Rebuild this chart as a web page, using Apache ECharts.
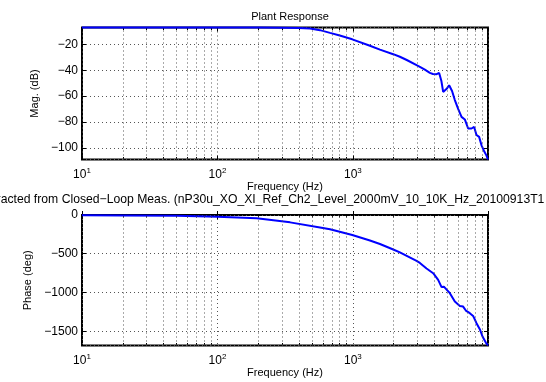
<!DOCTYPE html>
<html>
<head>
<meta charset="UTF-8">
<title>Plant Response</title>
<script src="https://cdn.jsdelivr.net/npm/echarts@6/dist/echarts.min.js"></script>
<style>
  body { margin: 0; background: #fff; }
  #main { width: 546px; height: 382px; }
</style>
</head>
<body>
<div id="main"></div>
<script>
// magnitude (dB)
var magFreq = [10, 20, 50, 100, 200, 300, 400, 483, 572, 678, 800, 990, 1337, 1585, 1986, 2224, 2500, 2954, 3125, 3400, 3703, 3900, 4150, 4337, 4500, 4642, 4778, 4950, 5140, 5400, 5662, 6000, 6344, 6500, 6710, 7097, 7516, 7859, 8184, 8555, 8912, 9265, 9699, 9950];
var magDb = [-6.85, -6.85, -6.86, -6.88, -6.92, -7.0, -7.2, -7.6, -8.9, -11.0, -13.0, -16.0, -21.0, -24.0, -27.5, -29.5, -32.0, -36.0, -37.3, -39.5, -42.0, -42.8, -43.0, -42.0, -48.0, -56.7, -57.0, -54.0, -51.5, -56.0, -63.0, -70.0, -76.0, -76.5, -78.0, -85.0, -85.0, -83.8, -90.0, -91.5, -98.0, -102.0, -106.0, -109.0];

// phase (deg)
var phFreq = [10, 20, 50, 100, 195, 344, 572, 678, 990, 1337, 1585, 1986, 2224, 2954, 3125, 3500, 3917, 4031, 4264, 4518, 4700, 4861, 5202, 5662, 6164, 6521, 6826, 7305, 7726, 8184, 8655, 9063, 9586, 9950];
var phDeg = [-2, -5, -11, -22, -43, -95, -160, -185, -258, -329, -374, -445, -483, -593, -619, -690, -751, -773, -838, -930, -925, -913, -1009, -1117, -1173, -1182, -1233, -1267, -1302, -1396, -1473, -1568, -1646, -1684];

// minor grid / tick positions between decades
var minorFreq = [20, 30, 40, 50, 60, 70, 80, 90, 200, 300, 400, 500, 600, 700, 800, 900, 2000, 3000, 4000, 5000, 6000, 7000, 8000, 9000];

var title1 = 'Plant Response';
var title2 = 'Extracted from Closed\u2212Loop Meas. (nP30u_XO_XI_Ref_Ch2_Level_2000mV_10_10K_Hz_20100913T1';

var FONT = '"Liberation Sans", Arial, Helvetica, sans-serif';
var fMin = 10, fMax = 9950;

function pairs(xs, ys) {
  return xs.map(function (x, i) { return [x, ys[i]]; });
}

function decadeLabel(v) {
  var e = Math.round(Math.log10(v));
  if (Math.abs(v - Math.pow(10, e)) > 1e-6 * v) return '';
  return '{b|10}{s|' + e + '}';
}

function yLabel(step) {
  return function (v) {
    if (Math.abs(v / step - Math.round(v / step)) > 1e-6) return '';
    return String(v).replace('-', '\u2212');
  };
}

var dotted = { type: [1, 3], color: '#555', width: 1 };
var txt = { fontFamily: FONT, fontSize: 11, color: '#000' };

function xAxes(g, nameGap) {
  return [
    {
      type: 'log', gridIndex: g, logBase: 10, min: fMin, max: fMax, position: 'bottom',
      axisLine: { show: false },
      axisTick: { inside: true, length: 4, lineStyle: { color: '#000' } },
      axisLabel: {
        formatter: decadeLabel, margin: 7, color: '#000',
        rich: {
          b: { fontFamily: FONT, fontSize: 12, color: '#000' },
          s: { fontFamily: FONT, fontSize: 8, color: '#000', padding: [0, 0, 9, 0] }
        }
      },
      splitLine: { show: true, lineStyle: dotted },
      name: 'Frequency (Hz)', nameLocation: 'middle', nameGap: nameGap,
      nameTextStyle: { fontFamily: FONT, fontSize: 11, color: '#000' }
    },
    {
      type: 'log', gridIndex: g, logBase: 10, min: fMin, max: fMax, position: 'top',
      axisLine: { show: false },
      axisTick: { inside: true, length: 4, lineStyle: { color: '#000' } },
      axisLabel: { show: false }, splitLine: { show: false }
    },
    {
      type: 'log', gridIndex: g, logBase: 10, min: fMin, max: fMax, position: 'bottom',
      axisLine: { show: false },
      axisTick: { inside: true, length: 2.5, customValues: minorFreq, lineStyle: { color: '#000' } },
      axisLabel: { show: false }, splitLine: { show: false }
    },
    {
      type: 'log', gridIndex: g, logBase: 10, min: fMin, max: fMax, position: 'top',
      axisLine: { show: false },
      axisTick: { inside: true, length: 2.5, customValues: minorFreq, lineStyle: { color: '#000' } },
      axisLabel: { show: false }, splitLine: { show: false }
    }
  ];
}

function yAxes(g, min, max, split, step, name, nameGap) {
  return [
    {
      type: 'value', gridIndex: g, min: min, max: max, splitNumber: split, position: 'left',
      axisLine: { show: false },
      axisTick: { inside: true, length: 4, lineStyle: { color: '#000' } },
      axisLabel: { formatter: yLabel(step), margin: 4, fontFamily: FONT, fontSize: 12, color: '#000' },
      splitLine: { show: true, lineStyle: dotted },
      name: name, nameLocation: 'middle', nameGap: nameGap, nameRotate: 90,
      nameTextStyle: txt
    },
    {
      type: 'value', gridIndex: g, min: min, max: max, splitNumber: split, position: 'right',
      axisLine: { show: false },
      axisTick: { inside: true, length: 4, lineStyle: { color: '#000' } },
      axisLabel: { show: false }, splitLine: { show: false }
    }
  ];
}

function minorGrid() {
  return {
    silent: true, symbol: 'none', animation: false,
    label: { show: false },
    lineStyle: dotted,
    data: minorFreq.map(function (f) { return { xAxis: f }; })
  };
}

var chart = echarts.init(document.getElementById('main'), null, { renderer: 'canvas' });
chart.setOption({
  animation: false,
  backgroundColor: '#fff',
  title: [
    { text: title1, left: 285, top: 6, textAlign: 'center',
      textStyle: { fontFamily: FONT, fontSize: 11, fontWeight: 'normal', color: '#000' } }
  ],
  graphic: [
    { type: 'text', x: -21, y: 194,
      style: { text: title2, font: '12.2px ' + FONT, fill: '#000' } }
  ],
  grid: [
    { left: 82, top: 27.5, width: 406, height: 132, show: true, borderColor: '#000', borderWidth: 2, backgroundColor: 'transparent' },
    { left: 82, top: 215, width: 406, height: 130.5, show: true, borderColor: '#000', borderWidth: 2, backgroundColor: 'transparent' }
  ],
  xAxis: xAxes(0, 19).concat(xAxes(1, 21)),
  yAxis: yAxes(0, -109, -6.85, 5, 20, 'Mag. (dB)', 25).concat(
         yAxes(1, -1684, 0, 4, 500, 'Phase (deg)', 32)),
  series: [
    {
      type: 'line', xAxisIndex: 0, yAxisIndex: 0, data: pairs(magFreq, magDb),
      showSymbol: false, clip: false,
      lineStyle: { color: '#0000ff', width: 2 }, itemStyle: { color: '#0000ff' },
      markLine: minorGrid()
    },
    {
      type: 'line', xAxisIndex: 4, yAxisIndex: 2, data: pairs(phFreq, phDeg),
      showSymbol: false, clip: false,
      lineStyle: { color: '#0000ff', width: 2 }, itemStyle: { color: '#0000ff' },
      markLine: minorGrid()
    }
  ]
});
</script>
</body>
</html>
